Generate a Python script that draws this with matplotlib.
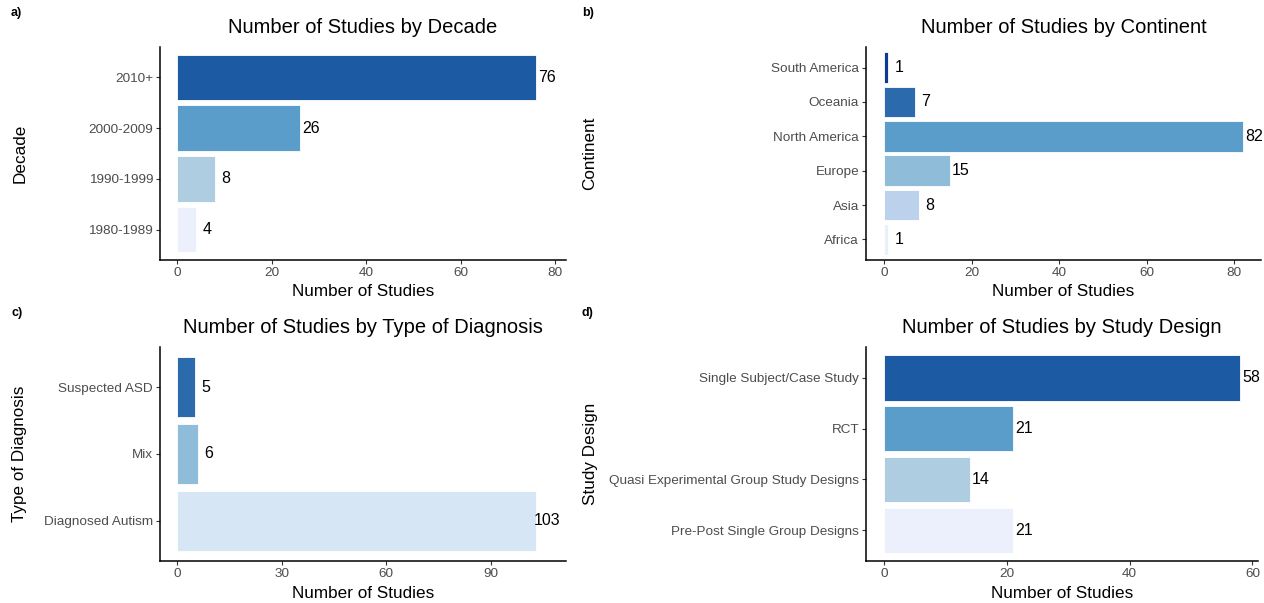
import matplotlib
matplotlib.use("Agg")
import matplotlib.pyplot as plt

plt.rcParams['font.family'] = ['Liberation Sans', 'DejaVu Sans']

# data
decades = ["1980-1989", "1990-1999", "2000-2009", "2010+"]
decade_counts = [4, 8, 26, 76]

continents = ["Africa", "Asia", "Europe", "North America", "Oceania", "South America"]
continent_counts = [1, 8, 15, 82, 7, 1]

diagnoses = ["Diagnosed Autism", "Mix", "Suspected ASD"]
diagnosis_counts = [103, 6, 5]

designs = ["Pre-Post Single Group Designs", "Quasi Experimental Group Study Designs",
           "RCT", "Single Subject/Case Study"]
design_counts = [21, 14, 21, 58]

# styling
decade_colors = ["#ebf0fc", "#aecde1", "#5a9dca", "#1c5aa3"]
continent_colors = ["#eaf0fb", "#bcd2ec", "#8fbcd9", "#5b9dca", "#2a6aad", "#0a3d8f"]
diagnosis_colors = ["#d6e6f4", "#8fbcd9", "#2a6aad"]
design_colors = ["#ebf0fc", "#aecde1", "#5a9dca", "#1c5aa3"]

W, H = 1264, 603
fig = plt.figure(figsize=(W / 100, H / 100), dpi=100)


def px_axes(left, top, right, bottom):
    return fig.add_axes([left / W, 1 - bottom / H, (right - left) / W, (bottom - top) / H])


def draw_panel(ax, cats, counts, colors, title, ylabel, xticks, xlim, letter, letter_xy, ylab_x):
    pos = range(len(cats))
    ax.barh(pos, counts, height=0.9, color=colors, edgecolor="white", linewidth=0.6)
    for p, c in zip(pos, counts):
        ax.annotate(str(c), (c, p), xytext=(8, 0), textcoords="offset points",
                    ha="center", va="center", fontsize=11.5, color="black")
    ax.set_yticks(list(pos))
    ax.set_yticklabels(cats)
    ax.set_xticks(xticks)
    ax.set_xlim(*xlim)
    ax.set_ylim(-0.6, len(cats) - 0.4)
    for s in ["top", "right"]:
        ax.spines[s].set_visible(False)
    for s in ["left", "bottom"]:
        ax.spines[s].set_linewidth(1.1)
        ax.spines[s].set_color("black")
    ax.tick_params(axis="both", labelsize=9.7, labelcolor="#4d4d4d", color="#333333",
                   length=3, width=0.8, pad=2)
    ax.set_title(title, fontsize=14.5, pad=10)
    ax.set_xlabel("Number of Studies", fontsize=12.3, labelpad=4)
    ax.set_ylabel(ylabel, fontsize=12.3, va="center")
    box = ax.get_position()
    ax.yaxis.set_label_coords(ylab_x / W, (box.y0 + box.y1) / 2, transform=fig.transFigure)
    fig.text(letter_xy[0] / W, 1 - letter_xy[1] / H, letter, fontsize=9,
             fontweight="bold", ha="left", va="center")


ax_a = px_axes(160, 47, 566, 260)
draw_panel(ax_a, decades, decade_counts, decade_colors, "Number of Studies by Decade",
           "Decade", [0, 20, 40, 60, 80], (-3.6, 82.3), "a)", (11, 13), 20)

ax_b = px_axes(866, 47, 1261, 260)
draw_panel(ax_b, continents, continent_counts, continent_colors,
           "Number of Studies by Continent", "Continent", [0, 20, 40, 60, 80],
           (-4.1, 86.1), "b)", (582, 13), 590)

ax_c = px_axes(160, 347, 566, 561)
draw_panel(ax_c, diagnoses, diagnosis_counts, diagnosis_colors,
           "Number of Studies by Type of Diagnosis", "Type of Diagnosis",
           [0, 30, 60, 90], (-4.9, 111.5), "c)", (11, 313), 20)

ax_d = px_axes(866, 347, 1258, 561)
draw_panel(ax_d, designs, design_counts, design_colors,
           "Number of Studies by Study Design", "Study Design", [0, 20, 40, 60],
           (-2.9, 60.9), "d)", (582, 313), 590)

fig.savefig("out.png", dpi=100, facecolor="white")
